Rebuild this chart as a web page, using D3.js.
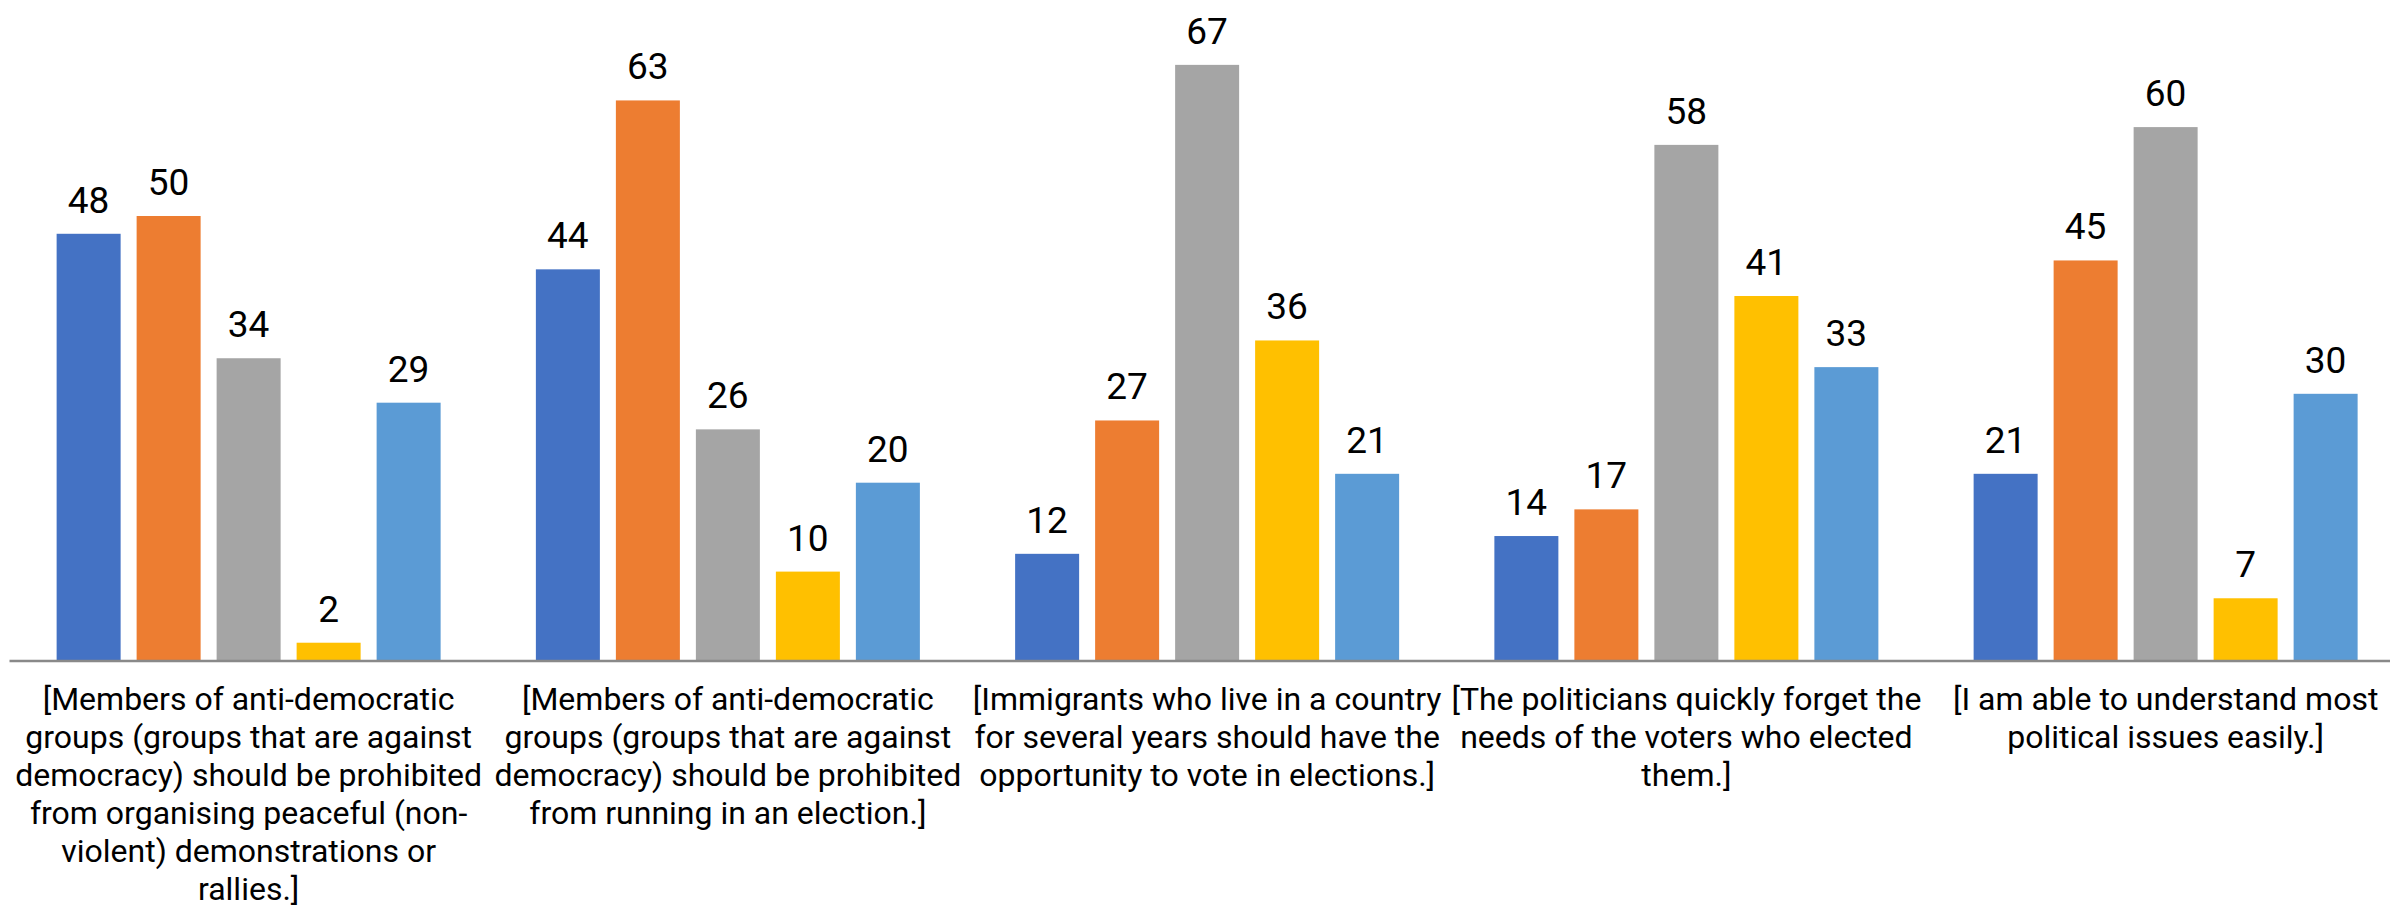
<!DOCTYPE html>
<html>
<head>
<meta charset="utf-8">
<script src="https://cdn.jsdelivr.net/npm/d3@7"></script>
<style>
  html, body { margin: 0; padding: 0; background: #ffffff; }
  svg { display: block; }
</style>
</head>
<body>
<svg id="chart" width="2390" height="908"></svg>
<script>
// ---- data ----
const categories = ["c1", "c2", "c3", "c4", "c5"];
const categoryLines = [
  ["[Members of anti-democratic", "groups (groups that are against", "democracy) should be prohibited", "from organising peaceful (non-", "violent) demonstrations or", "rallies.]"],
  ["[Members of anti-democratic", "groups (groups that are against", "democracy) should be prohibited", "from running in an election.]"],
  ["[Immigrants who live in a country", "for several years should have the", "opportunity to vote in elections.]"],
  ["[The politicians quickly forget the", "needs of the voters who elected", "them.]"],
  ["[I am able to understand most", "political issues easily.]"]
];
const seriesNames = ["s1", "s2", "s3", "s4", "s5"];
const series1 = [48, 44, 12, 14, 21];
const series2 = [50, 63, 27, 17, 45];
const series3 = [34, 26, 67, 58, 60];
const series4 = [2, 10, 36, 41, 7];
const series5 = [29, 20, 21, 33, 30];
const seriesColors = ["#4472C4", "#ED7D31", "#A5A5A5", "#FFC000", "#5B9BD5"];

const seriesValues = [series1, series2, series3, series4, series5];

// ---- layout ----
const svg = d3.select("#chart");
const plotLeft = 9, bandStep = 479.25;
const baseY = 660.5, plotTop = 660.5 - 70 * 8.89;

const x0 = d3.scaleBand()
  .domain(categories)
  .range([plotLeft, plotLeft + bandStep * categories.length])
  .padding(0);

const inner = 400;
const x1 = d3.scaleBand()
  .domain(seriesNames)
  .range([(x0.bandwidth() - inner) / 2, (x0.bandwidth() + inner) / 2])
  .paddingInner(0.2)
  .paddingOuter(0.1);

const y = d3.scaleLinear().domain([0, 70]).range([baseY, plotTop]);

const rows = categories.map((c, ci) => ({
  cat: c,
  vals: seriesNames.map((s, si) => ({ s, si, v: seriesValues[si][ci] }))
}));

const groups = svg.append("g").selectAll("g")
  .data(rows).join("g")
  .attr("transform", d => `translate(${x0(d.cat)},0)`);

groups.selectAll("rect")
  .data(d => d.vals).join("rect")
  .attr("x", d => x1(d.s))
  .attr("y", d => y(d.v))
  .attr("width", x1.bandwidth())
  .attr("height", d => y(0) - y(d.v))
  .attr("fill", d => seriesColors[d.si]);

groups.selectAll("text.val")
  .data(d => d.vals).join("text")
  .attr("class", "val")
  .attr("x", d => x1(d.s) + x1.bandwidth() / 2)
  .attr("y", d => y(d.v) - 21)
  .attr("text-anchor", "middle")
  .attr("font-family", "Roboto, sans-serif")
  .attr("font-size", 37)
  .attr("fill", "#000")
  .text(d => d.v);

// ---- x axis ----
const axis = svg.append("g")
  .attr("transform", `translate(0,${baseY})`)
  .call(d3.axisBottom(x0).tickSize(0).tickSizeOuter(0).tickFormat(""));
axis.select(".domain").attr("stroke", "#898989").attr("stroke-width", 2.5);

axis.selectAll(".tick text").remove();
axis.selectAll(".tick").each(function(d, i) {
  const t = d3.select(this).append("text")
    .attr("text-anchor", "middle")
    .attr("font-family", "Roboto, sans-serif")
    .attr("font-size", 32)
    .attr("fill", "#000");
  categoryLines[i].forEach((line, li) => {
    t.append("tspan")
      .attr("x", 0)
      .attr("y", 49.5 + li * 38)
      .text(line);
  });
});
</script>
</body>
</html>
